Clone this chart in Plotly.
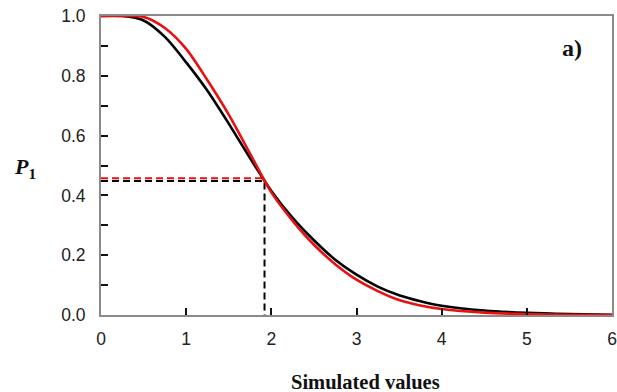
import plotly.graph_objects as go

# Values
x_vals = [0.0, 0.25, 0.5, 0.75, 1.0, 1.25, 1.5, 1.75, 2.0, 2.25, 2.5, 2.75,
          3.0, 3.25, 3.5, 3.75, 4.0, 4.5, 5.0, 5.5, 6.0]
black_p1 = [1.0, 1.0, 0.985, 0.93, 0.845, 0.75, 0.64, 0.525, 0.415, 0.325, 0.25, 0.185,
            0.135, 0.095, 0.066, 0.046, 0.031, 0.015, 0.007, 0.003, 0.001]
red_p1 = [1.0, 1.0, 0.997, 0.96, 0.89, 0.785, 0.67, 0.54, 0.41, 0.315, 0.235, 0.17,
          0.118, 0.08, 0.05, 0.032, 0.02, 0.008, 0.003, 0.001, 0.0]

# Reference (dashed) markers
red_ref_x = [0.0, 1.90]
red_ref_y = [0.457, 0.457]
black_ref_x = [0.0, 1.92, 1.92]
black_ref_y = [0.448, 0.448, 0.0]

y_tickvals = [0.0, 0.2, 0.4, 0.6, 0.8, 1.0]
y_ticktext = ["0.0", "0.2", "0.4", "0.6", "0.8", "1.0"]
x_tickvals = [0, 1, 2, 3, 4, 5, 6]
x_ticktext = ["0", "1", "2", "3", "4", "5", "6"]

fig = go.Figure()
fig.add_trace(go.Scatter(x=red_ref_x, y=red_ref_y, mode="lines",
                         line=dict(color="#e81010", width=2, dash="7px,4px")))
fig.add_trace(go.Scatter(x=black_ref_x, y=black_ref_y, mode="lines",
                         line=dict(color="#000000", width=2, dash="7px,4px")))
fig.add_trace(go.Scatter(x=x_vals, y=black_p1, mode="lines",
                         line=dict(color="#000000", width=2.6, shape="spline", smoothing=0.8)))
fig.add_trace(go.Scatter(x=x_vals, y=red_p1, mode="lines",
                         line=dict(color="#e81010", width=2.6, shape="spline", smoothing=0.8)))

tickfont = dict(family="Liberation Sans, Arial, sans-serif", size=17.5, color="#222222")

fig.update_layout(
    width=617, height=392,
    margin=dict(l=101, r=0, t=16, b=77),
    paper_bgcolor="white", plot_bgcolor="white",
    showlegend=False,
    xaxis=dict(range=[0, 6], tickvals=x_tickvals, ticktext=x_ticktext,
               showgrid=False, zeroline=False, showline=True, linecolor="#8a8a8a",
               linewidth=2, mirror=True, ticks="inside", ticklen=7, tickwidth=1.5,
               tickcolor="#111111", tickfont=tickfont, ticklabelstandoff=7,
               ticklabeloverflow="allow"),
    yaxis=dict(range=[0, 1], tickvals=y_tickvals, ticktext=y_ticktext,
               showgrid=False, zeroline=False, showline=True, linecolor="#8a8a8a",
               linewidth=2, mirror=True, ticks="inside", ticklen=7, tickwidth=1.5,
               tickcolor="#111111", tickfont=tickfont, ticklabelstandoff=10,
               minor=dict(ticks="inside", dtick=0.1, ticklen=7, tickwidth=1.5,
                          tickcolor="#111111", showgrid=False)),
    annotations=[
        dict(text="<b>Simulated values</b>", xref="paper", yref="paper",
             x=0.517, y=-0.225, xanchor="center", yanchor="middle", showarrow=False,
             font=dict(family="Liberation Serif, Times New Roman, serif", size=20.5,
                       color="#111111")),
        dict(text="<b><i>P</i><sub>1</sub></b>", xref="paper", yref="paper",
             x=-0.149, y=0.49, xanchor="center", yanchor="middle", showarrow=False,
             font=dict(family="Liberation Serif, Times New Roman, serif", size=22,
                       color="#111111")),
        dict(text="<b>a)</b>", xref="paper", yref="paper",
             x=0.922, y=0.893, xanchor="center", yanchor="middle", showarrow=False,
             font=dict(family="Liberation Serif, Times New Roman, serif", size=24,
                       color="#111111")),
    ],
)

fig.write_html("out.html")
